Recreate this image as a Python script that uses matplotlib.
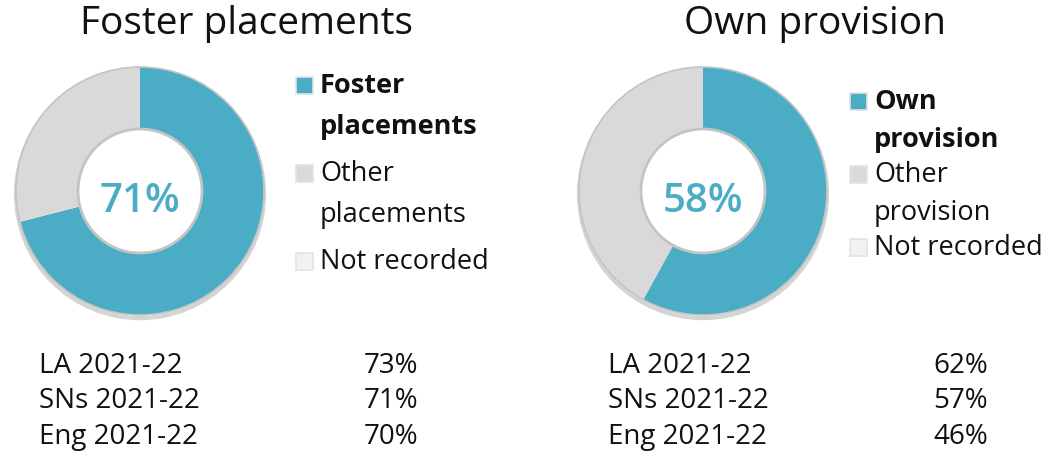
import matplotlib
matplotlib.use("Agg")
import matplotlib.pyplot as plt
from matplotlib.patches import Rectangle, Circle

plt.rcParams['font.family'] = ['Open Sans', 'DejaVu Sans']

W, H = 1048, 456
TEAL = '#4BACC6'
GREY = '#D9D9D9'
NONE_C = '#F2F2F2'

# ---- data ----
titles = ["Foster placements", "Own provision"]
centre_labels = ["71%", "58%"]
donut_values = [[71, 29, 0], [58, 42, 0]]
legend_labels = [["Foster\nplacements", "Other\nplacements", "Not recorded"],
                 ["Own\nprovision", "Other\nprovision", "Not recorded"]]
row_labels = ["LA 2021-22", "SNs 2021-22", "Eng 2021-22"]
row_values = [["73%", "71%", "70%"], ["62%", "57%", "46%"]]
colors = [TEAL, GREY, NONE_C]

fig = plt.figure(figsize=(W / 100, H / 100), dpi=100)

def fx(x):
    return x / W

def fy(y):
    return 1 - y / H

# layout (pixel positions)
centres = [(140, 192), (703, 192)]
R = 124
title_x = [247, 815]
leg_sq_x = [296, 850]
leg_txt_x = [320, 874]
leg_y = [[86, 174, 262], [102, 175, 248]]
line_pitch = [41, 38]
tab_lab_x = [39, 608]
tab_val_x = [418, 988]
tab_y = [366, 401, 437]

for i in range(2):
    cx, cy = centres[i]
    ax = fig.add_axes([fx(cx - R), fy(cy + R), 2 * R / W, 2 * R / H])
    ax.pie(donut_values[i], colors=colors, startangle=90, counterclock=False,
           radius=1.0, wedgeprops=dict(width=0.5, edgecolor='none'))
    # soft drop shadow
    ax.add_patch(Circle((0, -0.025), 1.0, facecolor='none', edgecolor='#d4d4d4', lw=3,
                        zorder=0, clip_on=False))
    ax.add_patch(Circle((0, 0), 1.0, facecolor='none', edgecolor='#c4c4c4', lw=1.2,
                        zorder=2, clip_on=False))
    ax.add_patch(Circle((0, 0), 0.5, facecolor='white', edgecolor='#c4c4c4', lw=2, zorder=3))
    ax.set_xlim(-1.0, 1.0)
    ax.set_ylim(-1.0, 1.0)
    ax.set_aspect('equal')
    ax.axis('off')
    ax.text(0, -0.08, centre_labels[i], ha='center', va='center', color=TEAL,
            fontsize=29, fontweight='semibold', zorder=4)

    fig.text(fx(title_x[i]), fy(24), titles[i], ha='center', va='center',
             fontsize=28, color='#111111')

    for j, lab in enumerate(legend_labels[i]):
        y = leg_y[i][j]
        sq = 17
        fig.patches.append(Rectangle((fx(leg_sq_x[i]), fy(y + sq / 2)), sq / W, sq / H,
                                     transform=fig.transFigure, facecolor=colors[j],
                                     edgecolor='#e3e3e3', lw=1.2))
        for k, line in enumerate(lab.split("\n")):
            fig.text(fx(leg_txt_x[i]), fy(y + k * line_pitch[i]), line, ha='left',
                     va='center', fontsize=19.5,
                     fontweight='bold' if j == 0 else 'normal', color='#111111')

    for r, lab in enumerate(row_labels):
        fig.text(fx(tab_lab_x[i]), fy(tab_y[r]), lab, ha='left', va='center',
                 fontsize=20, color='#111111')
        fig.text(fx(tab_val_x[i]), fy(tab_y[r]), row_values[i][r], ha='right',
                 va='center', fontsize=20, color='#111111')

fig.savefig('out.png', dpi=100)
